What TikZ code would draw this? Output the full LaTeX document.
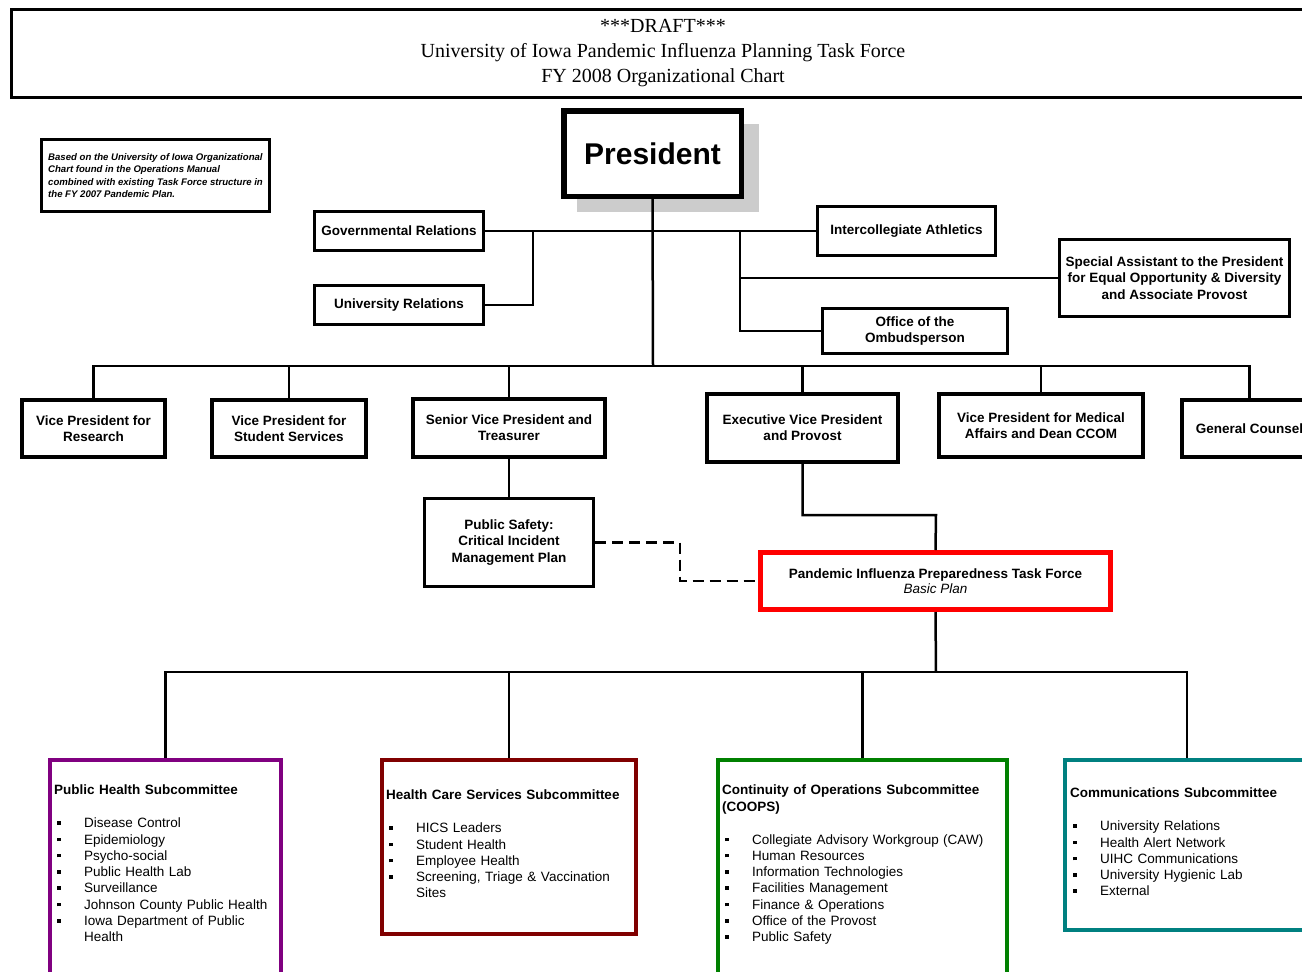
\documentclass[tikz,border=0pt]{standalone}
\usepackage{fontspec}
\setmainfont{Liberation Sans}
\newfontfamily\titlefont{Liberation Serif}
\usetikzlibrary{positioning,shadows}
\definecolor{phpurple}{RGB}{128,0,128}
\definecolor{hcmaroon}{RGB}{128,0,0}
\definecolor{coopgreen}{RGB}{0,128,0}
\definecolor{commteal}{RGB}{0,128,128}
\newcommand{\lbl}{\fontsize{13.5}{16.3}\selectfont}
\newcommand{\sqi}[1]{\par\noindent\makebox[30pt][l]{\hspace{3pt}\raisebox{3pt}{\rule{3.5pt}{3.5pt}}}#1}
\newcommand{\sqc}[1]{\par\noindent\hspace*{30pt}#1}
\tikzset{
  orgbox/.style={draw, line width=3pt, align=center, font=\lbl\bfseries, inner sep=2pt},
  vpbox/.style={orgbox, line width=4pt},
  link/.style={line width=2.5pt},
  dashlink/.style={link, dash pattern=on 11pt off 6pt},
  subbox/.style={draw=#1, line width=4pt},
  subtext/.style={align=left, font=\lbl, inner sep=0pt, text width=#1},
}
\begin{document}
\begin{tikzpicture}[x=1pt,y=-1pt]
    \useasboundingbox (0,0) rectangle (1302,972);
    \clip (0,0) rectangle (1302,972);
    % heading and note
    \node[draw, line width=3pt, minimum width=1303pt, minimum height=88pt, align=center, font=\titlefont\fontsize{20}{25}\selectfont] (title) at (663,53.5) {***DRAFT***\\University of Iowa Pandemic Influenza Planning Task Force\\FY 2008 Organizational Chart};
    \node[draw, line width=3pt, minimum width=228pt, minimum height=72pt, inner xsep=5pt, align=left, font=\fontsize{9.6}{12.3}\selectfont\bfseries\itshape] (note) at (155.5,175.5) {Based on the University of Iowa Organizational\\Chart found in the Operations Manual\\combined with existing Task Force structure in\\the FY 2007 Pandemic Plan.};
    % president and staff
    \node[orgbox, line width=5.5pt, minimum width=177.5pt, minimum height=85.5pt, font=\fontsize{30}{36}\selectfont\bfseries, fill=white, drop shadow={shadow xshift=15pt, shadow yshift=-14pt, shadow scale=1.03, fill=black!20, opacity=1}] (pres) at (652.5,153.5) {President};
    \node[orgbox, minimum width=169pt, minimum height=39pt] (govrel) at (399,231) {Governmental Relations};
    \node[orgbox, minimum width=169pt, minimum height=39pt] (unirel) at (399,305) {University Relations};
    \node[orgbox, minimum width=178pt, minimum height=49pt] (athl) at (906.5,231) {Intercollegiate Athletics};
    \node[orgbox, minimum width=230pt, minimum height=77pt] (spec) at (1174.5,278) {Special Assistant to the President\\for Equal Opportunity \& Diversity\\and Associate Provost};
    \node[orgbox, minimum width=185pt, minimum height=45pt] (ombud) at (915,331) {Office of the\\Ombudsperson};
    % vice presidents
    \node[vpbox, minimum width=143pt, minimum height=57pt] (vpres) at (93.5,428.5) {Vice President for\\Research};
    \node[vpbox, minimum width=154pt, minimum height=57pt] (vpstud) at (289,428.5) {Vice President for\\Student Services};
    \node[vpbox, line width=4.5pt, minimum width=192pt, minimum height=58pt] (svp) at (509,428) {Senior Vice President and\\Treasurer};
    \node[vpbox, line width=3.5pt, minimum width=191pt, minimum height=68pt] (evp) at (802.5,428) {Executive Vice President\\and Provost};
    \node[vpbox, minimum width=204pt, minimum height=63pt] (vpmed) at (1041,425.5) {Vice President for Medical\\Affairs and Dean CCOM};
    \node[vpbox, minimum width=135pt, minimum height=57pt] (gencoun) at (1249.5,428.5) {General Counsel};
    \node[orgbox, minimum width=169pt, minimum height=88pt] (pubsafe) at (509,542.5) {Public Safety:\\Critical Incident\\Management Plan};
    \node[orgbox, draw=red, line width=5pt, minimum width=350pt, minimum height=57pt, font=\fontsize{13.5}{15}\selectfont\bfseries] (pitf) at (935.5,581) {Pandemic Influenza Preparedness Task Force\\{\mdseries\itshape Basic Plan}};
    % subcommittees
    \node[subbox=phpurple, minimum width=231pt, minimum height=280pt] (phsub) at (165.5,900) {};
    \node[subbox=hcmaroon, minimum width=254pt, minimum height=174pt] (hcsub) at (509,847) {};
    \node[subbox=coopgreen, minimum width=289pt, minimum height=280pt] (coopsub) at (862.5,900) {};
    \node[subbox=commteal, minimum width=244pt, minimum height=170pt] (commsub) at (1187,845) {};
    \node[subtext=222pt, below right=27pt and 6pt of phsub.north west] (phtext) {\textbf{Public Health Subcommittee}\par\vspace{16.5pt}\sqi{Disease Control}\sqi{Epidemiology}\sqi{Psycho-social}\sqi{Public Health Lab}\sqi{Surveillance}\sqi{Johnson County Public Health}\sqi{Iowa Department of Public}\sqc{Health}};
    \node[subtext=245pt, below right=32pt and 6pt of hcsub.north west] (hctext) {\textbf{Health Care Services Subcommittee}\par\vspace{16.5pt}\sqi{HICS Leaders}\sqi{Student Health}\sqi{Employee Health}\sqi{Screening, Triage \& Vaccination}\sqc{Sites}};
    \node[subtext=280pt, below right=27pt and 6pt of coopsub.north west] (cooptext) {\textbf{Continuity of Operations Subcommittee}\newline\textbf{(COOPS)}\par\vspace{16.5pt}\sqi{Collegiate Advisory Workgroup (CAW)}\sqi{Human Resources}\sqi{Information Technologies}\sqi{Facilities Management}\sqi{Finance \& Operations}\sqi{Office of the Provost}\sqi{Public Safety}};
    \node[subtext=230pt, below right=30pt and 7pt of commsub.north west] (commtext) {\textbf{Communications Subcommittee}\par\vspace{16.5pt}\sqi{University Relations}\sqi{Health Alert Network}\sqi{UIHC Communications}\sqi{University Hygienic Lab}\sqi{External}};
    % junctions
    \coordinate (hub) at (653,366);
    \coordinate (gj) at (533,231);
    \coordinate (rj) at (740,231);
    \coordinate (dk) at (680,581);
    \coordinate (ej) at (936,515);
    \coordinate (sj) at (936,672);
    % connectors
    \draw[link] (pres.south) -- (hub);
    \draw[link] (govrel.east) -- (athl.west);
    \draw[link] (unirel.east) -| (gj);
    \draw[link] (rj) |- (ombud.west);
    \draw[link] (spec.west) -- (spec.west -| rj);
    \draw[link] (vpres.north) |- (hub) -| (gencoun.north);
    \foreach \n in {vpstud,svp,evp,vpmed}
        \draw[link] (\n.north) -- (\n.north |- hub);
    \draw[link] (svp.south) -- (pubsafe.north);
    \draw[dashlink] (pubsafe.east) -| (dk) -- (pitf.west);
    \draw[link] (evp.south) |- (ej) -- (pitf.north);
    \draw[link] (pitf.south) -- (sj);
    \draw[link] (phsub.north) |- (sj) -| (commsub.north);
    \foreach \n in {hcsub,coopsub}
        \draw[link] (\n.north) -- (\n.north |- sj);
\end{tikzpicture}
\end{document}
